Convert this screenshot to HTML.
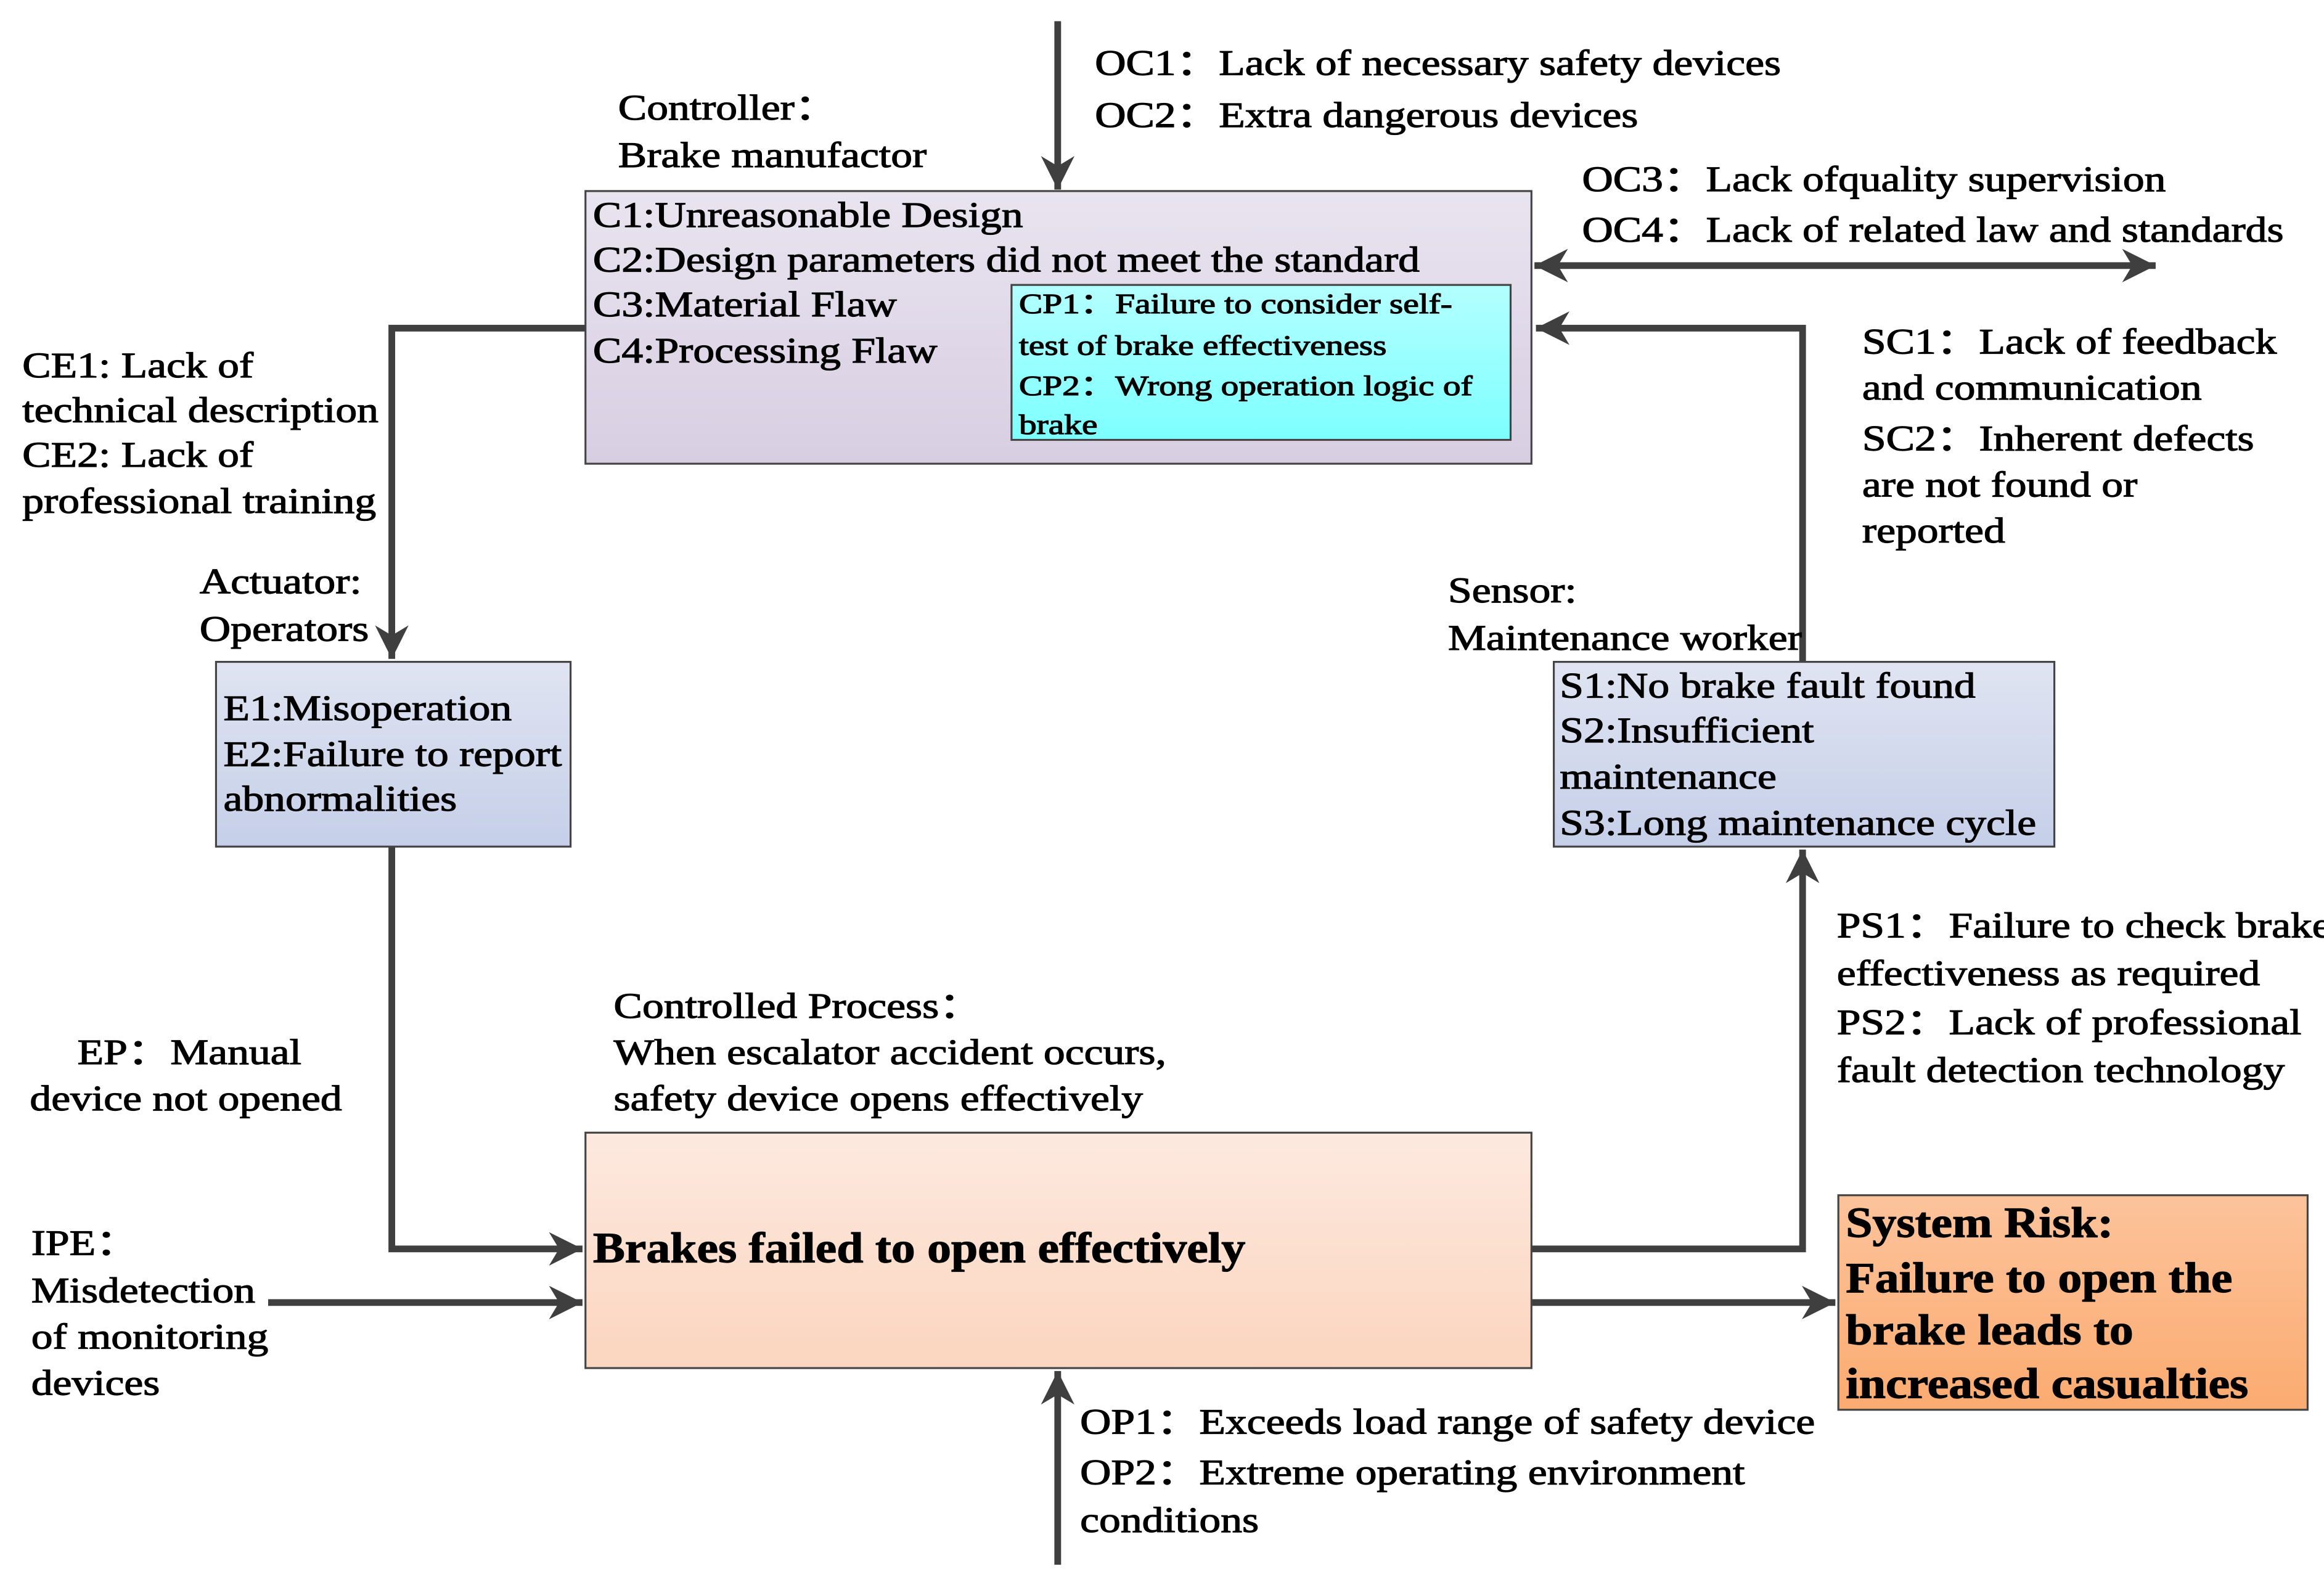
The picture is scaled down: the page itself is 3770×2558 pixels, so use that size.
<!DOCTYPE html>
<html><head><meta charset="utf-8"><style>
html,body{margin:0;padding:0;background:#fff;}
svg{display:block;}
text{font-family:"Liberation Serif",serif;fill:#000;stroke:#000;stroke-width:0.5;}
</style></head><body>
<svg width="3770" height="2558" viewBox="0 0 1560 1058" xmlns="http://www.w3.org/2000/svg">
<defs>
<linearGradient id="gc" x1="0" y1="0" x2="0" y2="1"><stop offset="0" stop-color="#e9e4f0"/><stop offset="1" stop-color="#d8cee2"/></linearGradient>
<linearGradient id="gcp" x1="0" y1="0" x2="0" y2="1"><stop offset="0" stop-color="#b4ffff"/><stop offset="1" stop-color="#7dffff"/></linearGradient>
<linearGradient id="ge" x1="0" y1="0" x2="0" y2="1"><stop offset="0" stop-color="#e0e4f2"/><stop offset="1" stop-color="#c5cfe8"/></linearGradient>
<linearGradient id="gp" x1="0" y1="0" x2="0" y2="1"><stop offset="0" stop-color="#fde9df"/><stop offset="1" stop-color="#fbd5bf"/></linearGradient>
<linearGradient id="gr" x1="0" y1="0" x2="0" y2="1"><stop offset="0" stop-color="#fcc39b"/><stop offset="1" stop-color="#fbab70"/></linearGradient>
<marker id="ah" viewBox="0 0 10 10" refX="10" refY="5" markerWidth="5" markerHeight="5" orient="auto-start-reverse" markerUnits="strokeWidth"><path d="M0,0 L10,5 L0,10 L3,5 z" fill="#3f3f3f"/></marker>
</defs>
<g fill="none" stroke="#3f3f3f" stroke-width="4.5">
<line x1="710" y1="14" x2="710" y2="127" marker-end="url(#ah)"/>
<line x1="1030" y1="178" x2="1447" y2="178" marker-start="url(#ah)" marker-end="url(#ah)"/>
<polyline points="1210,446 1210,220 1031,220" marker-end="url(#ah)"/>
<polyline points="393,220 263,220 263,442" marker-end="url(#ah)"/>
<polyline points="263,566 263,838 391,838" marker-end="url(#ah)"/>
<line x1="180" y1="874" x2="391" y2="874" marker-end="url(#ah)"/>
<polyline points="1028,838 1210,838 1210,570" marker-end="url(#ah)"/>
<line x1="1028" y1="874" x2="1232" y2="874" marker-end="url(#ah)"/>
<line x1="710" y1="1050" x2="710" y2="920" marker-end="url(#ah)"/>
</g>
<rect x="393" y="128" width="635" height="183" fill="url(#gc)" stroke="#444" stroke-width="1.3"/>
<rect x="679" y="191" width="335" height="104" fill="url(#gcp)" stroke="#444" stroke-width="1.3"/>
<rect x="145" y="444" width="238" height="124" fill="url(#ge)" stroke="#444" stroke-width="1.3"/>
<rect x="1043" y="444" width="336" height="124" fill="url(#ge)" stroke="#444" stroke-width="1.3"/>
<rect x="393" y="760" width="635" height="158" fill="url(#gp)" stroke="#444" stroke-width="1.3"/>
<rect x="1234" y="802" width="315" height="144" fill="url(#gr)" stroke="#444" stroke-width="1.3"/>
<g font-size="24" transform="scale(1.2,1)">
<text x="612.5" y="50">OC1：Lack of necessary safety devices</text>
<text x="612.5" y="85">OC2：Extra dangerous devices</text>
<text x="345.8" y="80">Controller：</text>
<text x="345.8" y="112">Brake manufactor</text>
<text x="331.7" y="152">C1:Unreasonable Design</text>
<text x="331.7" y="182">C2:Design parameters did not meet the standard</text>
<text x="331.7" y="212">C3:Material Flaw</text>
<text x="331.7" y="243">C4:Processing Flaw</text>
<text x="885" y="128">OC3：Lack ofquality supervision</text>
<text x="885" y="162">OC4：Lack of related law and standards</text>
<text x="1041.7" y="237">SC1：Lack of feedback</text>
<text x="1041.7" y="268">and communication</text>
<text x="1041.7" y="302">SC2：Inherent defects</text>
<text x="1041.7" y="333">are not found or</text>
<text x="1041.7" y="364">reported</text>
<text x="12.5" y="253">CE1: Lack of</text>
<text x="12.5" y="283">technical description</text>
<text x="12.5" y="313">CE2: Lack of</text>
<text x="12.5" y="344">professional training</text>
<text x="111.7" y="398">Actuator:</text>
<text x="111.7" y="430">Operators</text>
<text x="125" y="483">E1:Misoperation</text>
<text x="125" y="514">E2:Failure to report</text>
<text x="125" y="544">abnormalities</text>
<text x="810" y="404">Sensor:</text>
<text x="810" y="436">Maintenance worker</text>
<text x="872.5" y="468">S1:No brake fault found</text>
<text x="872.5" y="498">S2:Insufficient</text>
<text x="872.5" y="529">maintenance</text>
<text x="872.5" y="560">S3:Long maintenance cycle</text>
<text x="1027.5" y="629">PS1：Failure to check brake</text>
<text x="1027.5" y="661">effectiveness as required</text>
<text x="1027.5" y="694">PS2：Lack of professional</text>
<text x="1027.5" y="726">fault detection technology</text>
<text x="343.3" y="683">Controlled Process：</text>
<text x="343.3" y="714">When escalator accident occurs,</text>
<text x="343.3" y="745">safety device opens effectively</text>
<text x="43.3" y="714">EP：Manual</text>
<text x="16.7" y="745">device not opened</text>
<text x="17.5" y="842">IPE：</text>
<text x="17.5" y="874">Misdetection</text>
<text x="17.5" y="905">of monitoring</text>
<text x="17.5" y="936">devices</text>
<text x="604.2" y="962">OP1：Exceeds load range of safety device</text>
<text x="604.2" y="996">OP2：Extreme operating environment</text>
<text x="604.2" y="1028">conditions</text>
</g>
<g font-size="19" transform="scale(1.25,1)">
<text x="547.2" y="210">CP1：Failure to consider self-</text>
<text x="547.2" y="238">test of brake effectiveness</text>
<text x="547.2" y="265">CP2：Wrong  operation logic of</text>
<text x="547.2" y="291">brake</text>
</g>
<g font-size="29" font-weight="bold" style="stroke-width:0" transform="scale(1.11,1)">
<text x="358.6" y="847">Brakes failed to open effectively</text>
<text x="1116.2" y="830">System Risk:</text>
<text x="1116.2" y="867">Failure to open the</text>
<text x="1116.2" y="902">brake leads to</text>
<text x="1116.2" y="938">increased casualties</text>
</g>
</svg>
</body></html>
